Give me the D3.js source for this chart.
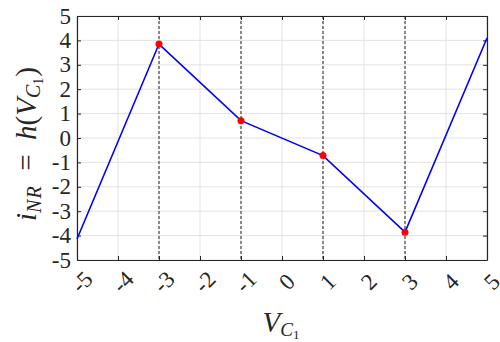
<!DOCTYPE html>
<html>
<head>
<meta charset="utf-8">
<script src="https://cdn.jsdelivr.net/npm/d3@7"></script>
<style>
  body { margin: 0; background: #fff; }
</style>
</head>
<body>
<svg id="chart" width="500" height="342"></svg>
<script>
  // piecewise-linear characteristic
  const vc = [-5, -3, -1, 1, 3, 5];
  const inr = [-4.14, 3.85, 0.71, -0.72, -3.86, 4.1];
  const breakpoints = [-3, -1, 1, 3];
  const xTicks = [-5, -4, -3, -2, -1, 0, 1, 2, 3, 4, 5];
  const yTicks = [-5, -4, -3, -2, -1, 0, 1, 2, 3, 4, 5];

  const svg = d3.select("#chart");
  const serif = "'Liberation Serif', 'DejaVu Serif', serif";
  const pLeft = 77, pRight = 487, pTop = 16, pBottom = 260;

  const x = d3.scaleLinear().domain([-5, 5]).range([pLeft, pRight]);
  const y = d3.scaleLinear().domain([-5, 5]).range([pBottom, pTop]);

  // grid
  svg.append("g").selectAll("line").data(xTicks).join("line")
    .attr("x1", d => x(d)).attr("x2", d => x(d))
    .attr("y1", pTop).attr("y2", pBottom)
    .attr("stroke", "#e3e3e3").attr("stroke-width", 1);
  svg.append("g").selectAll("line").data(yTicks).join("line")
    .attr("x1", pLeft).attr("x2", pRight)
    .attr("y1", d => y(d)).attr("y2", d => y(d))
    .attr("stroke", "#e3e3e3").attr("stroke-width", 1);

  // dashed breakpoint lines
  svg.append("g").selectAll("line").data(breakpoints).join("line")
    .attr("x1", d => x(d)).attr("x2", d => x(d))
    .attr("y1", pTop).attr("y2", pBottom)
    .attr("stroke", "#222").attr("stroke-width", 1)
    .attr("stroke-dasharray", "3,2");

  // axes (box with inward ticks)
  const axisColor = "#262626";
  const tl = 4;
  const gb = svg.append("g").attr("transform", `translate(0,${pBottom})`)
    .call(d3.axisBottom(x).tickValues(xTicks).tickSizeInner(-tl).tickSizeOuter(0).tickFormat(""));
  const gt = svg.append("g").attr("transform", `translate(0,${pTop})`)
    .call(d3.axisTop(x).tickValues(xTicks).tickSizeInner(-tl).tickSizeOuter(0).tickFormat(""));
  const gl = svg.append("g").attr("transform", `translate(${pLeft},0)`)
    .call(d3.axisLeft(y).tickValues(yTicks).tickSizeInner(-tl).tickSizeOuter(0).tickFormat(""));
  const gr = svg.append("g").attr("transform", `translate(${pRight},0)`)
    .call(d3.axisRight(y).tickValues(yTicks).tickSizeInner(-tl).tickSizeOuter(0).tickFormat(""));
  [gb, gt, gl, gr].forEach(g => {
    g.selectAll("path").attr("stroke", axisColor).attr("stroke-width", 1.2);
    g.selectAll("line").attr("stroke", axisColor);
  });

  // tick labels
  svg.append("g").selectAll("text").data(yTicks).join("text")
    .attr("x", pLeft - 6).attr("y", d => y(d))
    .attr("text-anchor", "end").attr("dominant-baseline", "central")
    .attr("font-family", serif).attr("font-size", 23).attr("fill", "#262626")
    .text(d => d);
  svg.append("g").selectAll("text").data(xTicks).join("text")
    .attr("transform", d => `translate(${x(d) + 5},${pBottom + 22}) rotate(-45)`)
    .attr("text-anchor", "middle").attr("dominant-baseline", "central")
    .attr("font-family", serif).attr("font-size", 23).attr("fill", "#262626")
    .text(d => d);

  // curve
  const pts = vc.map((v, i) => [v, inr[i]]);
  svg.append("path").datum(pts)
    .attr("d", d3.line().x(d => x(d[0])).y(d => y(d[1])))
    .attr("fill", "none").attr("stroke", "#0000ff").attr("stroke-width", 1.6);

  svg.append("g").selectAll("circle").data(pts.filter(p => breakpoints.includes(p[0]))).join("circle")
    .attr("cx", d => x(d[0])).attr("cy", d => y(d[1])).attr("r", 3.5)
    .attr("fill", "#ff0000");

  // axis titles
  const xl = svg.append("text").attr("x", 281).attr("y", 332)
    .attr("text-anchor", "middle").attr("font-family", serif)
    .attr("font-size", 29).attr("fill", "#262626");
  xl.append("tspan").attr("font-style", "italic").text("V");
  xl.append("tspan").attr("font-style", "italic").attr("font-size", 19).attr("dy", 4).text("C");
  xl.append("tspan").attr("font-size", 13).attr("dy", 3).text("1");

  const yl = svg.append("text")
    .attr("transform", `translate(36,144) rotate(-90)`)
    .attr("text-anchor", "middle").attr("font-family", serif)
    .attr("font-size", 29).attr("fill", "#262626");
  yl.append("tspan").attr("font-style", "italic").text("i");
  yl.append("tspan").attr("font-style", "italic").attr("font-size", 20).attr("dy", 5)
    .attr("letter-spacing", 1).text("NR");
  yl.append("tspan").attr("dy", -5).text("\u2002=\u2002");
  yl.append("tspan").attr("font-style", "italic").text("h");
  yl.append("tspan").text("(");
  yl.append("tspan").attr("font-style", "italic").text("V");
  yl.append("tspan").attr("font-style", "italic").attr("font-size", 20).attr("dy", 4).text("C");
  yl.append("tspan").attr("font-size", 14).attr("dy", 3).text("1");
  yl.append("tspan").attr("dy", -7).attr("dx", 1).text(")");
</script>
</body>
</html>
